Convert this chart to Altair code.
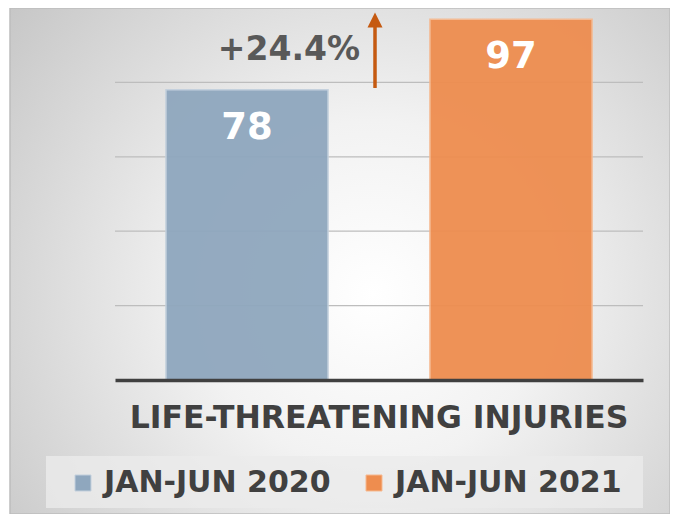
import altair as alt
import pandas as pd

category = ["LIFE-THREATENING INJURIES", "LIFE-THREATENING INJURIES"]
series = ["JAN-JUN 2020", "JAN-JUN 2021"]
values = [78, 97]
colors = ["#8FA7BE", "#EE8D4F"]
strokes = ["#C3D0DD", "#F6B990"]
change_label = ["+24.4%"]
arrow_base = [78.5]
arrow_shaft_top = [97.2]
arrow_tip = [98.8]
grid_values = [20, 40, 60, 80]

FONT = "DejaVu Sans"
W, H = 528, 372
PAD_L, PAD_T, PAD_R, PAD_B = 107, 0, 27, 134

df = pd.DataFrame({"cat": category, "series": series, "value": values})
ann = pd.DataFrame({"label": change_label, "base": arrow_base,
                    "shaft": arrow_shaft_top, "tip": arrow_tip})

y_scale = alt.Scale(domain=[0, 100], nice=False)
x_enc = alt.X("cat:N", title=None,
              scale=alt.Scale(paddingInner=0, paddingOuter=0),
              axis=alt.Axis(labelFont=FONT, labelFontSize=31.5, labelFontWeight="bold",
                            labelColor="#404040", labelPadding=22, tickSize=0,
                            labelLimit=0, labelAngle=0, zindex=2,
                            domainColor="#404040", domainWidth=3.5, grid=False))
xoff = alt.XOffset("series:N", scale=alt.Scale(paddingInner=0.386, paddingOuter=0.193))

bg = alt.Chart(pd.DataFrame({"d": [0]})).mark_rect(
    fill=alt.Gradient(gradient="radial",
                      stops=[alt.GradientStop(color="#ffffff", offset=0),
                             alt.GradientStop(color="#f2f2f2", offset=0.35),
                             alt.GradientStop(color="#c2c2c2", offset=1)],
                      x1=0.55, y1=0.55, r1=0, x2=0.55, y2=0.55, r2=0.75),
    stroke="#bdbdbd", strokeWidth=1.5
).encode(x=alt.value(-PAD_L + 2), x2=alt.value(W + PAD_R), y=alt.value(0), y2=alt.value(H + PAD_B))

legend_box = alt.Chart(pd.DataFrame({"d": [0]})).mark_rect(fill="#ebebeb", opacity=0.8).encode(
    x=alt.value(46 - 115), x2=alt.value(643 - 115), y=alt.value(456 - 8), y2=alt.value(508 - 8))

grid = alt.Chart(pd.DataFrame({"g": grid_values})).mark_rule(color="#bdbdbd", strokeWidth=1.2).encode(
    y=alt.Y("g:Q", scale=y_scale, axis=None), x=alt.value(0), x2=alt.value(W))

bars = alt.Chart(df).mark_bar(strokeWidth=1.5, opacity=0.95).encode(
    x=x_enc, xOffset=xoff,
    y=alt.Y("value:Q", scale=y_scale, axis=None),
    color=alt.Color("series:N", scale=alt.Scale(domain=series, range=colors),
                    legend=alt.Legend(orient="none", legendX=68 - 115, legendY=460,
                                      direction="horizontal", title=None,
                                      symbolType="square", symbolSize=256,
                                      symbolStrokeWidth=1, symbolOpacity=1,
                                      labelFont=FONT, labelFontSize=30, labelFontWeight="bold",
                                      labelColor="#404040", labelLimit=0, labelOffset=6,
                                      columnPadding=28, padding=0)),
    stroke=alt.Stroke("series:N", scale=alt.Scale(domain=series, range=strokes), legend=None),
)

labels = alt.Chart(df).mark_text(font=FONT, fontSize=37, fontWeight="bold", color="white",
                                 baseline="alphabetic", dy=49).encode(
    x=alt.X("cat:N", title=None), xOffset="series:N",
    y=alt.Y("value:Q", scale=y_scale), text="value:Q")

shaft = alt.Chart(ann).mark_rule(color="#C55A11", strokeWidth=3.5).encode(
    x=alt.value(260), y=alt.Y("base:Q", scale=y_scale), y2="shaft:Q")

head = alt.Chart(ann).mark_point(shape="M0,0L1,2L-1,2Z", filled=True, fill="#C55A11",
                                 opacity=1, size=225, strokeWidth=0).encode(
    x=alt.value(260), y=alt.Y("tip:Q", scale=y_scale))

pct = alt.Chart(ann).mark_text(font=FONT, fontSize=33, fontWeight="bold", color="#595959",
                               align="right", baseline="alphabetic").encode(
    x=alt.value(245), y=alt.value(52), text="label:N")

chart = alt.layer(bg, legend_box, grid, bars, labels, shaft, head, pct).properties(
    width=W, height=H,
    padding={"left": PAD_L, "top": PAD_T, "right": PAD_R, "bottom": PAD_B},
    autosize=alt.AutoSizeParams(type="none"),
).configure_view(stroke=None).configure(background="white")

chart.save("out.html", embed_options={"renderer": "svg", "actions": False})
